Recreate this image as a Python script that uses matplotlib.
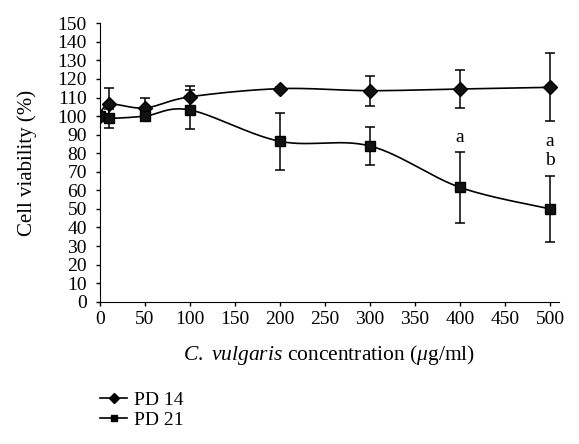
import numpy as np
import matplotlib
matplotlib.use("Agg")
import matplotlib.pyplot as plt

plt.rcParams['font.family'] = ['Liberation Serif', 'DejaVu Serif']
plt.rcParams['mathtext.fontset'] = 'custom'
plt.rcParams['mathtext.rm'] = 'Liberation Serif'
plt.rcParams['mathtext.it'] = 'Liberation Serif:italic'

conc = [0, 10, 50, 100, 200, 300, 400, 500]
pd14 = [100, 106.4, 104.4, 110.4, 114.8, 113.7, 114.6, 115.5]
pd14_err = [0, 8.6, 5.5, 6.0, 1.0, 8.0, 10.3, 18.3]
pd21 = [100, 98.8, 100, 103.3, 86.4, 83.9, 61.6, 50.0]
pd21_err = [0, 5.0, 0, 10.5, 15.4, 10.3, 19.0, 17.7]
labels = ["PD 14", "PD 21"]
annot = [(400, 86.2, "a"), (500, 83.9, "a"), (500, 73.7, "b")]


def smooth(xs, ys, n=30):
    xs = np.asarray(xs, float); ys = np.asarray(ys, float)
    P = np.column_stack([xs, ys])
    P = np.vstack([P[0], P, P[-1]])
    out = []
    t = np.linspace(0, 1, n)[:, None]
    for i in range(1, len(P) - 2):
        p0, p1, p2, p3 = P[i - 1], P[i], P[i + 1], P[i + 2]
        seg = 0.5 * ((2 * p1) + (-p0 + p2) * t + (2 * p0 - 5 * p1 + 4 * p2 - p3) * t ** 2
                     + (-p0 + 3 * p1 - 3 * p2 + p3) * t ** 3)
        out.append(seg)
    S = np.vstack(out)
    return S[:, 0], S[:, 1]

fig = plt.figure(figsize=(5.79, 4.44), dpi=100)
ax = fig.add_axes([100 / 579, 1 - 301.7 / 444, 459 / 579, 278.4 / 444])

fs = 14
for ys, err, mk, ms, lms, lab in [(pd14, pd14_err, 'D', 7.2, 5.2, labels[0]),
                                  (pd21, pd21_err, 's', 7.2, 5.0, labels[1])]:
    sx, sy = smooth(conc, ys)
    ax.plot(sx, sy, color='black', lw=1.2)
    ax.errorbar(conc, ys, yerr=err, fmt='none', ecolor='black', elinewidth=1.1, capsize=3.5, capthick=1.1)
    ax.plot(conc, ys, linestyle='none', marker=mk, ms=ms, color='black', mfc='#111111', mew=1)
    ax.plot([], [], color='black', lw=1.2, marker=mk, ms=lms, label=lab)

for x, y, t in annot:
    ax.text(x, y, t, ha='center', va='baseline', fontsize=fs)

ax.set_xlim(0, 510)
ax.set_ylim(0, 150)
ax.set_xticks(np.arange(0, 501, 50))
ax.set_yticks(np.arange(0, 151, 10))
ax.spines['top'].set_visible(False)
ax.spines['right'].set_visible(False)
ax.spines['left'].set_bounds(0, 150)
ax.tick_params(direction='out', length=3, width=1, labelsize=fs)
ax.tick_params(axis='x', pad=4)
ax.tick_params(axis='y', pad=6.5)
ax.set_ylabel('Cell viability (%)', fontsize=15, labelpad=14.5)
ax.set_xlabel(r'$\mathit{C.}$ $\mathit{vulgaris}$ concentration ($\mathit{\mu}$g/ml)', fontsize=15.5, labelpad=10.5)

leg = fig.legend(loc='upper left', bbox_to_anchor=(100 / 579, 1 - 391 / 444), frameon=False, fontsize=fs,
                 handlelength=1.4, handletextpad=0.36, labelspacing=0.12, borderpad=0, borderaxespad=0)

fig.savefig('out.png', dpi=100)
